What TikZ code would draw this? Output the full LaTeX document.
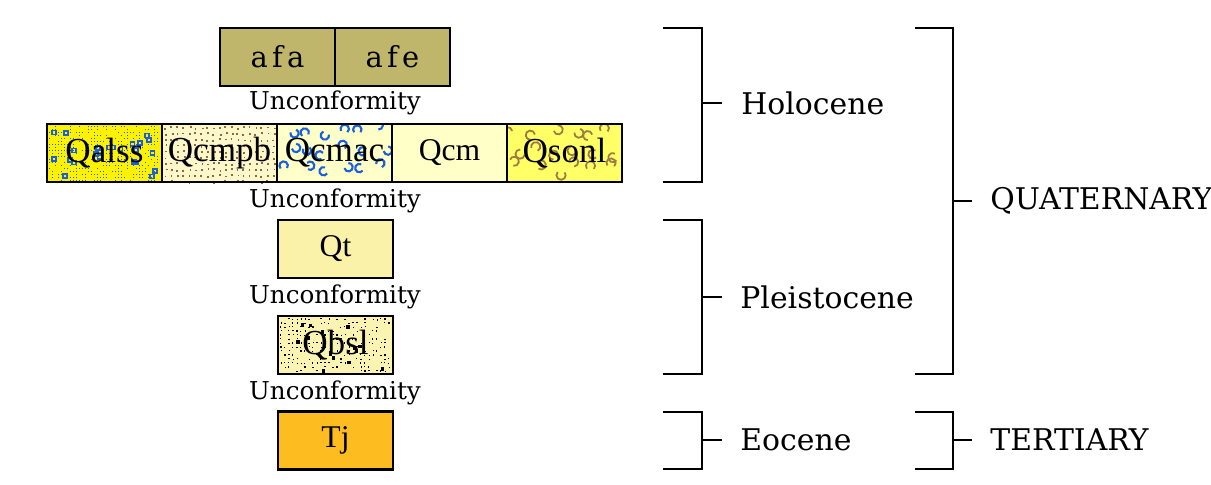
\documentclass[tikz,border=0pt]{standalone}
\usepackage{fontspec}
\setmainfont{DejaVu Serif}
\newfontfamily\qfont{Liberation Serif}
\newfontfamily\afont[LetterSpace=15]{DejaVu Serif}
\definecolor{olivebox}{HTML}{BFB56B}
\definecolor{paleyel}{HTML}{FFFFC8}
\definecolor{creamyel}{HTML}{FCF8CC}
\definecolor{lemon}{HTML}{FFFF66}
\definecolor{terrace}{HTML}{FAF2A9}
\definecolor{sandyel}{HTML}{FAF3B2}
\definecolor{eoceneor}{HTML}{FDBD21}
\definecolor{mudbrown}{HTML}{8A6A3A}
\definecolor{curlbrown}{HTML}{9C7A45}
\definecolor{dotblue}{HTML}{1A5FE0}
\begin{document}
\begin{tikzpicture}[x=0.02cm, y=-0.02cm,
    unit/.style={draw, line width=1.3pt, minimum width=2.3cm, minimum height=1.16cm,
        inner sep=0pt, font=\qfont\fontsize{20}{20}\selectfont},
    gap/.style={font=\fontsize{14}{14}\selectfont, inner sep=0pt},
    epoch/.style={anchor=west, font=\fontsize{17}{17}\selectfont, inner sep=0pt},
    brace/.style={line width=1.4pt}]

    \useasboundingbox (0,0) rectangle (1211,484);
    \pgfmathsetseed{11}

    % Holocene fans
    \node[unit, fill=olivebox, font=\afont\fontsize{16.5}{16.5}\selectfont] (afa) at (277.5,57) {afa};
    \node[unit, fill=olivebox, font=\afont\fontsize{16.5}{16.5}\selectfont] (afe) at (392.5,57) {afe};
    \node[gap] (unc1) at (335,103) {Unconformity};

    % Holocene row, textures first
    \fill[yellow] (47,124) rectangle (162,182);
    \foreach \i in {0,...,36} {
        \foreach \j in {0,...,18} {
            \pgfmathparse{rnd<0.45 ? 1 : 0}
            \ifnum\pgfmathresult=1
                \fill[dotblue] ({48.5+3*\i},{125.5+3*\j}) rectangle ++(1.5,1.5);
            \fi
        }
    }
    \foreach \k in {1,...,24} {
        \draw[dotblue, line width=0.9pt] ({50+106*rnd},{127+50*rnd}) rectangle ++(4,4);
    }
    \fill[creamyel] (162,124) rectangle (277,182);
    \foreach \i in {0,...,18} {
        \foreach \j in {0,...,9} {
            \fill[mudbrown] ({164+6*\i+2*rnd},{126+6*\j+2*rnd}) rectangle ++(1.8,1.8);
        }
    }
    \begin{scope}
        \clip (277,124) rectangle (392,182);
        \fill[paleyel] (277,124) rectangle (392,182);
        \foreach \i in {0,...,5} {
            \foreach \j in {0,1,2} {
                \pgfmathsetmacro\ang{360*rnd}
                \draw[dotblue, line width=1.2pt] ({283+19*\i+9*rnd},{128+18*\j+9*rnd})
                    arc[start angle=\ang, delta angle=-260, radius=4.2];
            }
        }
    \end{scope}
    \fill[paleyel] (392,124) rectangle (507,182);
    \begin{scope}
        \clip (507,124) rectangle (622,182);
        \fill[lemon] (507,124) rectangle (622,182);
        \foreach \i in {0,...,5} {
            \foreach \j in {0,1,2} {
                \pgfmathsetmacro\ang{360*rnd}
                \draw[curlbrown, line width=1pt] ({512+19*\i+9*rnd},{128+18*\j+9*rnd})
                    arc[start angle=\ang, delta angle=-260, radius=4.6];
            }
        }
    \end{scope}
    \node[unit] (qalss) at (104.5,153) {Qalss};
    \node[unit] (qcmpb) at (219.5,153) {Qcmpb};
    \node[unit] (qcmac) at (334.5,153) {Qcmac};
    \node[unit, font=\qfont\fontsize{18}{18}\selectfont] (qcm) at (449.5,153) {Qcm};
    \node[unit] (qsonl) at (564.5,153) {Qsonl};
    \node[gap] (unc2) at (335,201) {Unconformity};

    % Pleistocene
    \node[unit, fill=terrace, font=\qfont\fontsize{18}{18}\selectfont] (qt) at (335.5,249) {Qt};
    \node[gap] (unc3) at (335,297) {Unconformity};
    \fill[sandyel] (278,316) rectangle (393,374);
    \foreach \i in {0,...,27} {
        \foreach \j in {0,...,13} {
            \pgfmathparse{rnd<0.5 ? 1 : 0}
            \ifnum\pgfmathresult=1
                \fill[black] ({279.5+4*\i+1.5*rnd},{317.5+4*\j+1.5*rnd}) rectangle ++(1.5,1.5);
            \fi
        }
    }
    \foreach \k in {1,...,14} {
        \fill[black] ({282+106*rnd},{320+50*rnd}) rectangle ++(3.5,3.5);
    }
    \node[unit] (qbsl) at (335.5,345) {Qbsl};
    \node[gap] (unc4) at (335,393) {Unconformity};

    % Eocene
    \node[unit, fill=eoceneor, font=\qfont\fontsize{18}{18}\selectfont] (tj) at (335.5,440.5) {Tj};

    % epoch brackets
    \draw[brace] (663,28) -- (702,28) -- (702,182) -- (663,182);
    \draw[brace] (702,103) -- (722,103);
    \node[epoch] (holocene) at (741,103) {Holocene};
    \draw[brace] (663,220) -- (702,220) -- (702,374) -- (663,374);
    \draw[brace] (702,297) -- (722,297);
    \node[epoch] (pleisto) at (740,297) {Pleistocene};
    \draw[brace] (663,412) -- (702,412) -- (702,469) -- (663,469);
    \draw[brace] (702,440) -- (722,440);
    \node[epoch] (eocene) at (740,440) {Eocene};

    % period brackets
    \draw[brace] (915,28) -- (953,28) -- (953,374) -- (915,374);
    \draw[brace] (953,201) -- (972,201);
    \node[epoch] (quat) at (990,201) {QUATERNARY};
    \draw[brace] (915,412) -- (953,412) -- (953,469) -- (915,469);
    \draw[brace] (953,440) -- (972,440);
    \node[epoch] (tert) at (990,440) {TERTIARY};

\end{tikzpicture}
\end{document}
